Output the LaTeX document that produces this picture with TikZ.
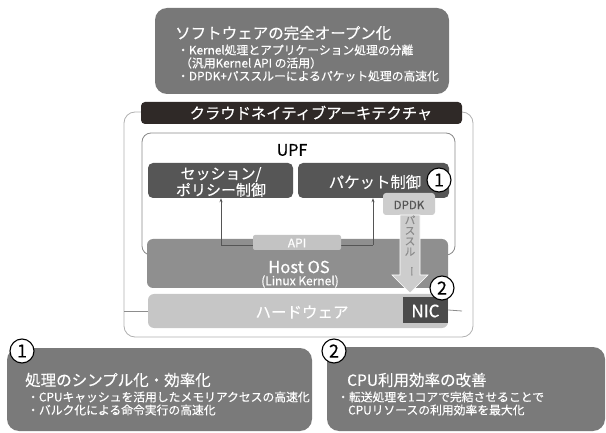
\documentclass[tikz,border=0pt]{standalone}
\usepackage{fontspec}
\setmainfont{Noto Sans CJK JP}[FakeBold=0.35]
\usetikzlibrary{arrows.meta}
\definecolor{topgray}{HTML}{787878}
\definecolor{botgray}{HTML}{7A7A7A}
\definecolor{darkbar}{HTML}{2F2927}
\definecolor{sessgray}{HTML}{565656}
\definecolor{hostgray}{HTML}{8F8F8F}
\definecolor{hwgray}{HTML}{C6C6C6}
\definecolor{apigray}{HTML}{C3C3C3}
\definecolor{dpdkgray}{HTML}{CDCDCD}
\definecolor{nicgray}{HTML}{4B4B4B}
\definecolor{framegray}{HTML}{B0B0B0}
\definecolor{upfgray}{HTML}{8A8A8A}
\definecolor{linegray}{HTML}{555555}
\begin{document}
\begin{tikzpicture}[x=1pt,y=-1pt,
  every node/.style={inner sep=0pt},
  gbox/.style={rectangle, rounded corners=#1},
  gbox/.default=6pt,
  fsTitle/.style={font=\fontsize{15.5}{18}\selectfont},
  fsBig/.style={font=\fontsize{15}{17}\selectfont},
  fsSmall/.style={font=\fontsize{11.8}{13}\selectfont},
  wtext/.style={text=white},
  badge/.style={circle, draw=black, line width=1.1pt, fill=white, minimum size=24pt, font=\fontsize{18}{20}\selectfont},
  thinarr/.style={draw=linegray, line width=0.6pt, -{Stealth[length=4pt,width=3pt]}},
  thinline/.style={draw=linegray, line width=0.6pt}
]
\useasboundingbox (0,0) rectangle (606,433);

% top box
\node[gbox=12pt, fill=topgray, minimum width=294pt, minimum height=86pt] (topbox) at (302,51) {};
\node[fsTitle, wtext, anchor=west] (toptitle) at (175,33) {ソフトウェアの完全オープン化};
\node[fsSmall, wtext, anchor=west] (topl1) at (177,50) {・Kernel処理とアプリケーション処理の分離};
\node[fsSmall, wtext, anchor=west] (topl2) at (180,63) {（汎用Kernel API の活用）};
\node[fsSmall, wtext, anchor=west] (topl3) at (177,76) {・DPDK+パススルーによるパケット処理の高速化};

% outer frame
\node[gbox=11pt, draw=framegray, line width=0.8pt, minimum width=349pt, minimum height=225pt] (frame) at (298.5,224.5) {};
\node[gbox=4pt, fill=darkbar, minimum width=321pt, minimum height=22pt] (titlebar) at (301.5,113) {};
\node[wtext, font=\fontsize{15.3}{17}\selectfont] (titletext) at (311,113) {クラウドネイティブアーキテクチャ};

% UPF
\node[gbox=9pt, draw=upfgray, line width=0.8pt, fill=white, minimum width=313pt, minimum height=122pt] (upf) at (298.5,194) {};
\node[font=\fontsize{16}{18}\selectfont] (upflabel) at (292,150) {UPF};
\node[gbox=5pt, fill=sessgray, minimum width=145pt, minimum height=35pt] (sess) at (220.5,180.5) {};
\node[wtext, align=center, font=\fontsize{15}{15}\selectfont] (sesstext) at (221,182) {セッション/\\ポリシー制御};
\node[gbox=5pt, fill=sessgray, minimum width=151pt, minimum height=35pt] (pkt) at (373.5,180.5) {};
\node[wtext, font=\fontsize{15.4}{17}\selectfont] (pkttext) at (375,182) {パケット制御};
\node[gbox=3pt, fill=dpdkgray, minimum width=52pt, minimum height=22pt] (dpdk) at (409,204) {};
\node[text=linegray, font=\fontsize{11.5}{13}\selectfont] (dpdktext) at (409,205) {DPDK};
\node[badge] (c1) at (439,180) {1};

% Host OS
\node[gbox=6pt, fill=hostgray, minimum width=301pt, minimum height=49pt] (host) at (297.5,263.5) {};
\node[wtext, font=\fontsize{16.5}{18}\selectfont] (hosttext) at (299,267) {Host OS};
\node[wtext, font=\fontsize{12}{13}\selectfont] (hostsub) at (300,281.5) {(Linux Kernel)};
\coordinate (a1) at (221,245);
\coordinate (a2) at (373,245);
\draw[thinline] (a1) -- (a2);
\draw[thinarr] (a1) -- (a1 |- sess.south);
\draw[thinarr] (a2) -- (a2 |- pkt.south);
\node[gbox=2pt, fill=apigray, minimum width=88pt, minimum height=15pt] (api) at (297,242.5) {};
\node[wtext, font=\fontsize{12}{13}\selectfont] (apitext) at (297,243) {API};

% pass-through arrow
\coordinate (pt) at (410,293);
\fill[dpdkgray, draw=white, line width=0.6pt] (400,215) -- (420,215) -- (420,275) -- (428,275) -- (pt) -- (392,275) -- (400,275) -- cycle;
\node[text=upfgray, align=center, font=\fontsize{10.5}{10.5}\selectfont] (passtext) at (410,246) {パ\\ス\\ス\\ル\\\rotatebox{-90}{ー}};

% hardware
\node[gbox=6pt, fill=hwgray, minimum width=300pt, minimum height=34pt] (hw) at (298,311) {};
\node[wtext, font=\fontsize{15.5}{17}\selectfont] (hwtext) at (302,312) {ハードウェア};
\node[rectangle, fill=nicgray, minimum width=45pt, minimum height=26pt] (nic) at (425.5,310) {};
\node[wtext, font=\fontsize{17}{19}\selectfont] (nictext) at (425.5,311) {NIC};
\coordinate (hl) at (124,311);
\coordinate (hr) at (462,311);
\draw[draw=framegray!80!black, line width=0.8pt] (hl) -- (hw.west);
\draw[draw=framegray!80!black, line width=0.8pt] (nic.east) -- (hr);
\node[badge] (c2) at (442,288) {2};

% bottom left
\node[gbox=12pt, fill=botgray, minimum width=305pt, minimum height=83pt] (bl) at (159.5,389.5) {};
\node[badge] (c3) at (22,351) {1};
\node[fsTitle, wtext, anchor=west] (bltitle) at (25,380) {処理のシンプル化・効率化};
\node[fsSmall, wtext, anchor=west] (bll1) at (27,397) {・CPUキャッシュを活用したメモリアクセスの高速化};
\node[fsSmall, wtext, anchor=west] (bll2) at (27,410) {・バルク化による命令実行の高速化};

% bottom right
\node[gbox=12pt, fill=botgray, minimum width=278pt, minimum height=84pt] (br) at (466,389) {};
\node[badge] (c4) at (334,351) {2};
\node[fsTitle, wtext, anchor=west] (brtitle) at (347,380) {CPU利用効率の改善};
\node[fsSmall, wtext, anchor=west] (brl1) at (337,397) {・転送処理を1コアで完結させることで};
\node[fsSmall, wtext, anchor=west] (brl2) at (348,410) {CPUリソースの利用効率を最大化};
\end{tikzpicture}
\end{document}
